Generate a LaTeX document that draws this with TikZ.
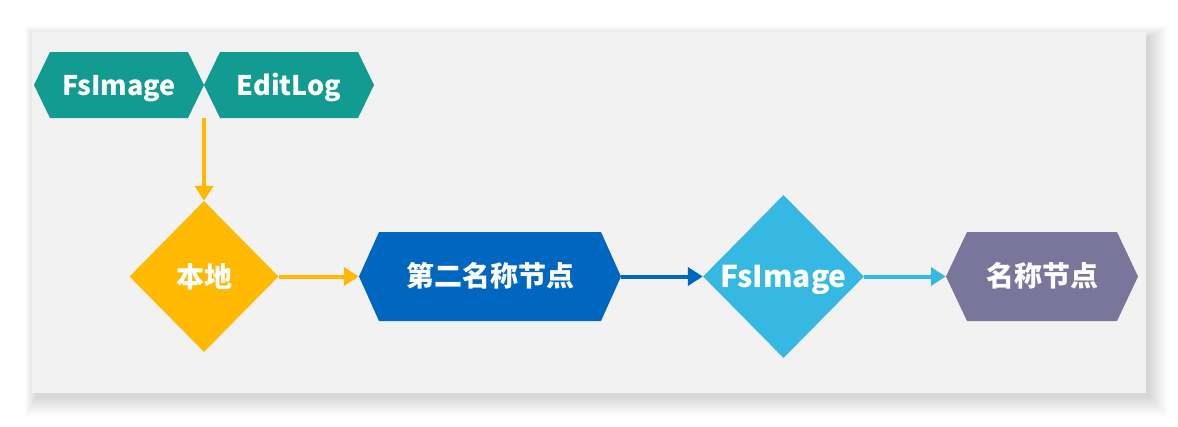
\documentclass[tikz,border=0pt]{standalone}
\usepackage{fontspec}
\newfontfamily\cjk{Noto Sans CJK SC}
\usetikzlibrary{arrows.meta,shapes.geometric}
\definecolor{panelc}{RGB}{242,242,242}
\definecolor{tealc}{RGB}{17,155,145}
\definecolor{yellowc}{RGB}{255,185,0}
\definecolor{bluec}{RGB}{0,103,192}
\definecolor{cyanc}{RGB}{53,185,227}
\definecolor{purplec}{RGB}{122,117,155}
\tikzset{
  hexa/.style n args={4}{rectangle, inner sep=0pt, minimum width=#1, minimum height=#2,
    text=white, font=\cjk\bfseries, text height=22pt, text depth=2pt,
    path picture={\fill[#3] (path picture bounding box.west)
      -- ([xshift=#4]path picture bounding box.north west)
      -- ([xshift=-#4]path picture bounding box.north east)
      -- (path picture bounding box.east)
      -- ([xshift=-#4]path picture bounding box.south east)
      -- ([xshift=#4]path picture bounding box.south west) -- cycle;}},
  dia/.style n args={3}{diamond, aspect=1, inner sep=0pt, fill=#3,
    minimum width=#1, minimum height=#2, text=white, font=\cjk\bfseries,
    text height=23pt, text depth=1pt},
  arr/.style={line width=4pt, -{Triangle[length=15pt,width=18pt]}}
}
\begin{document}
\begin{tikzpicture}[x=1pt,y=-1pt]
\useasboundingbox (0,0) rectangle (1178,426);
\fill[white] (0,0) rectangle (1178,426);
% shadow
\foreach \s in {1,...,20}{
  \fill[black,opacity=0.006] (37-0.6*\s,38-0.6*\s) rectangle (1148+\s,396+\s);
}
\fill[panelc] (32,32) rectangle (1146,393);
% top hexagons
\node[hexa={170pt}{66pt}{tealc}{16pt}] (fsa) at (119,85) {\fontsize{27}{30}\selectfont FsImage};
\node[hexa={170pt}{66pt}{tealc}{16pt}] (edit) at (289,85) {\fontsize{27}{30}\selectfont EditLog};
% flow
\node[dia={149pt}{151pt}{yellowc}] (local) at (204,276.5) {\fontsize{28}{30}\selectfont 本地};
\node[hexa={262pt}{89pt}{bluec}{20pt}] (snn) at (490,276.5) {\fontsize{28}{30}\selectfont 第二名称节点};
\node[dia={161pt}{163pt}{cyanc}] (fsb) at (783.5,276.5) {\fontsize{30}{32}\selectfont FsImage};
\node[hexa={192pt}{89pt}{purplec}{21pt}] (nn) at (1042,276.5) {\fontsize{28}{30}\selectfont 名称节点};
% connectors
\draw[arr,yellowc] (fsa.south east) -- (local.north);
\draw[arr,yellowc] (local.east) -- (snn.west);
\draw[arr,bluec] (snn.east) -- (fsb.west);
\draw[arr,cyanc] (fsb.east) -- (nn.west);
\end{tikzpicture}
\end{document}
